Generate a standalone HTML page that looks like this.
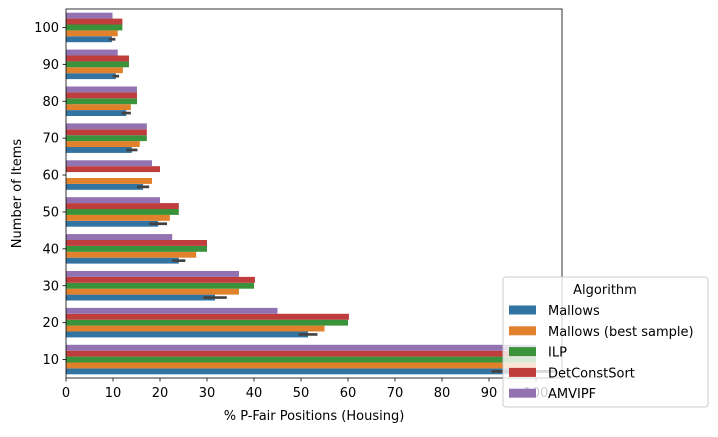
<!DOCTYPE html>
<html><head><meta charset="utf-8"><style>
body{margin:0;background:#fff;font-family:"Liberation Sans","DejaVu Sans",sans-serif;}
</style></head><body>
<svg id="chart" width="718" height="432" xmlns="http://www.w3.org/2000/svg" font-family="DejaVu Sans, Liberation Sans, sans-serif">
<g id="bars"></g>
<g id="axes"></g>
<g id="legend"></g>
</svg>
<script>
const categories = [10,20,30,40,50,60,70,80,90,100];
const seriesNames = ["Mallows","Mallows (best sample)","ILP","DetConstSort","AMVIPF"];
const colors = ["#3274a1","#e1812c","#3a923a","#c03d3e","#9372b2"];
const mallows = [97.5,51.5,31.7,24.0,19.6,16.4,14.0,12.8,10.6,9.8];
const mallowsBest = [100,55,36.8,27.7,22.1,18.3,15.7,13.8,12.1,11.0];
const ilp = [100,60,40,30,24,0,17.2,15.1,13.4,12];
const detConstSort = [100,60.2,40.2,30,24,20,17.2,15.1,13.4,12];
const amvipf = [100,45,36.8,22.6,20,18.3,17.2,15.1,11,9.9];
const mallowsErr = [7,2,2.5,1.4,1.9,1.3,1.2,1,0.7,0.7];
const xTicks = [0,10,20,30,40,50,60,70,80,90,100];

const NS="http://www.w3.org/2000/svg";
const L=66,R=562,T=9,B=378;
const x=v=>L+v*4.7;
const band=(B-T)/categories.length;
const yCenter=i=>B-band*(i+0.5);
const barH=band*0.8/5;
function mk(tag,attrs,parent){const e=document.createElementNS(NS,tag);for(const k in attrs)e.setAttribute(k,attrs[k]);parent.appendChild(e);return e;}
const gb=document.getElementById('bars'),ga=document.getElementById('axes'),gl=document.getElementById('legend');
const series=[mallows,mallowsBest,ilp,detConstSort,amvipf];
// seaborn order: first hue on top within group; here Mallows at bottom (y axis inverted order). Bottom = Mallows
categories.forEach((c,i)=>{
  series.forEach((s,j)=>{
    const top=yCenter(i)+band*0.4-barH*(j+1);
    const r=mk('rect',{x:x(0),y:top,width:Math.max(0,x(s[i])-x(0)),height:barH,fill:colors[j]},gb);
    
    
  });
  const yc=yCenter(i)+band*0.4-barH*0.5;
  const e=mk('line',{x1:x(mallows[i]-mallowsErr[i]),x2:x(Math.min(mallows[i]+mallowsErr[i],105)),y1:yc,y2:yc,stroke:'#424242','stroke-width':2.7},gb);
  
  
  mk('line',{x1:L-3.5,x2:L,y1:yCenter(i),y2:yCenter(i),stroke:'#000','stroke-width':0.8},ga);
  const t=mk('text',{x:L-7,y:yCenter(i)+4.5,'text-anchor':'end','font-size':13,fill:'#000'},ga);
  t.textContent=c;
  
  
});
xTicks.forEach(v=>{
  mk('line',{x1:x(v),x2:x(v),y1:B,y2:B+3.5,stroke:'#000','stroke-width':0.8},ga);
  const t=mk('text',{x:x(v),y:B+19,'text-anchor':'middle','font-size':13,fill:'#000'},ga);
  t.textContent=v;
  
  
});
mk('rect',{x:L,y:T,width:R-L,height:B-T,fill:'none',stroke:'#000','stroke-width':0.8},ga);
const xt=mk('text',{x:(L+R)/2,y:420,'text-anchor':'middle','font-size':13},ga);
xt.textContent='% P-Fair Positions (Housing)';


const yt=mk('text',{x:0,y:0,'text-anchor':'middle','font-size':13,transform:`translate(21,${(T+B)/2}) rotate(-90)`},ga);
yt.textContent='Number of Items';


// legend
const lb=mk('rect',{x:503,y:277,width:205,height:130,rx:3,fill:'#fff','fill-opacity':0.8,stroke:'#ccc','stroke-width':1},gl);


const lt=mk('text',{x:605,y:294,'text-anchor':'middle','font-size':13},gl);
lt.textContent='Algorithm';


seriesNames.forEach((n,j)=>{
  const yy=310+j*20.8;
  const g=mk('g',{},gl);
  
  
  mk('rect',{x:509,y:yy-4.5,width:27,height:9,fill:colors[j]},g);
  const t=mk('text',{x:548,y:yy+5,'font-size':13},g);
  t.textContent=n;
});
</script>
</body></html>
